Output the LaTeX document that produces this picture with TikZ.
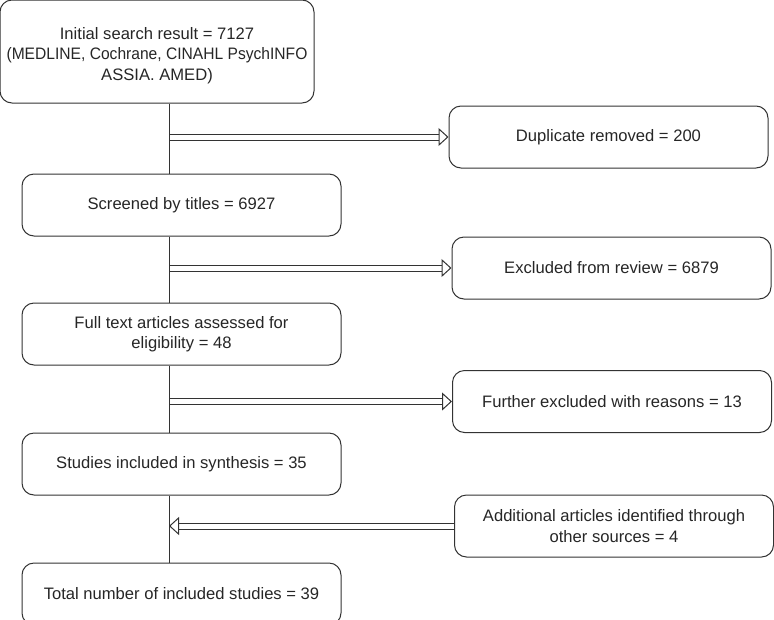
\documentclass[tikz,border=0pt]{standalone}
\usepackage{fontspec}
\setmainfont{Liberation Sans}
\usepackage{graphicx}
\usepackage{tikz}
\usetikzlibrary{arrows.meta}
\usetikzlibrary{positioning}

\begin{document}
\begin{tikzpicture}[x=1pt,y=1pt,node distance=66pt,line width=1pt,
  every node/.style={font=\fontsize{16.6}{20.5}\selectfont, text=black!85}]
  \tikzstyle{box}=[draw=black!80, rounded corners=12pt, align=center,
                   minimum width=319pt, minimum height=62pt, inner sep=0pt]
  \tikzstyle{dbl}=[draw=black!80, double=white, double distance=5pt,
                   -{Triangle[open, length=10pt, width=18pt, line width=1pt]}]
  \useasboundingbox (0,0) rectangle (774,-619);

  % left column
  \node[box, minimum width=314pt, minimum height=103pt] (search) at (157,-51.5)
    {\rule{0pt}{20pt}Initial search result = 7127\\
     \scalebox{0.94}[1]{(MEDLINE, Cochrane, CINAHL PsychINFO}\\ASSIA. AMED)};
  \node[box] (titles) [below=70pt of search, xshift=24.5pt] {Screened by titles = 6927};
  \node[box] (full)   [below=66pt of titles] {Full text articles assessed for\\eligibility = 48};
  \node[box] (synth)  [below=67pt of full] {Studies included in synthesis = 35};
  \node[box] (total)  [below=67pt of synth] {Total number of included studies = 39};

  % right column
  \node[box] (dup)     at (608.5,-137) {Duplicate removed = 200};
  \node[box] (excl)    at (611.5,-268) {Excluded from review = 6879};
  \node[box] (further) at (612,-401.5) {Further excluded with reasons = 13};
  \node[box] (other)   at (614,-526)   {Additional articles identified through\\other sources = 4};

  \coordinate (spine) at (169,0);

  % side arrows
  \draw[dbl] (spine |- dup.west) -- (dup.west);
  \draw[dbl] (spine |- excl.west) -- (excl.west);
  \draw[dbl] (spine |- further.west) -- (further.west);
  \draw[dbl] (other.west) -- (spine |- other.west);

  % main line
  \draw[black!80] (search.south -| spine) -- (titles.north -| spine);
  \draw[black!80] (titles.south -| spine) -- (full.north -| spine);
  \draw[black!80] (full.south -| spine) -- (synth.north -| spine);
  \draw[black!80] (synth.south -| spine) -- (total.north -| spine);
\end{tikzpicture}
\end{document}
